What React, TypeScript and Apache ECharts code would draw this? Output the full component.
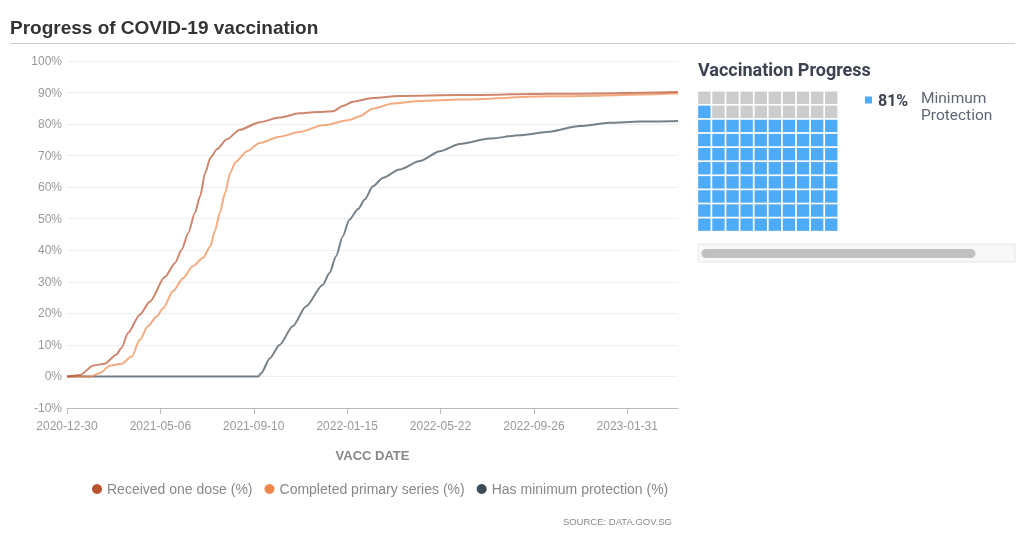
import React, { useEffect, useRef } from "react";
import * as echarts from "echarts";

const START = "2020-12-30";
const END_DAYS = 831;
const TICK_STEP = 127;

const oneDoseDates = ["2020-12-30","2021-01-17","2021-02-04","2021-02-19","2021-03-07","2021-03-14","2021-03-23","2021-04-08","2021-04-22","2021-05-12","2021-05-26","2021-06-04","2021-06-13","2021-06-22","2021-06-29","2021-07-06","2021-07-13","2021-07-22","2021-08-04","2021-08-22","2021-09-18","2021-10-15","2021-11-11","2021-12-04","2021-12-27","2022-01-09","2022-01-23","2022-02-19","2022-03-27","2022-06-17","2022-10-17","2023-04-10"];
const oneDoseValues = [0,0.5,3.5,4.0,6.9,9.0,13.8,19.6,23.8,31.5,36,40.2,45.5,51.9,57.1,64.6,69.3,72,75.1,78.2,80.6,82.1,83.4,83.8,84.1,85.7,87.1,88.3,88.9,89.2,89.6,90.2];

const primaryDates = ["2020-12-30","2021-02-01","2021-02-13","2021-02-26","2021-03-14","2021-03-28","2021-04-08","2021-04-19","2021-05-01","2021-05-10","2021-05-23","2021-06-06","2021-06-19","2021-07-03","2021-07-13","2021-07-19","2021-07-26","2021-08-02","2021-08-09","2021-08-16","2021-09-01","2021-09-18","2021-10-15","2021-11-11","2021-12-13","2022-01-18","2022-02-01","2022-02-19","2022-03-18","2022-04-24","2022-06-17","2022-10-17","2023-04-10"];
const primaryValues = [0,0,1.1,3.4,4.0,6.3,11.6,15.9,19,21.7,27,31.2,34.9,37.6,41.3,46,51.9,58.2,64.6,67.9,71.4,74,76,77.5,79.6,81.3,82.5,84.9,86.5,87.3,87.8,88.8,89.7];

const minProtDates = ["2020-12-30","2021-09-16","2021-09-20","2021-10-02","2021-10-15","2021-11-02","2021-11-20","2021-12-13","2021-12-22","2021-12-31","2022-01-09","2022-01-18","2022-01-30","2022-02-08","2022-02-19","2022-03-05","2022-03-27","2022-04-24","2022-05-21","2022-06-17","2022-07-28","2022-09-07","2022-10-17","2022-11-27","2023-01-07","2023-02-17","2023-04-10"];
const minProtValues = [0,0,1,5.8,10,15.9,22.2,29.1,32.8,38.1,44.4,49.7,53.1,56.1,60.3,63,65.6,68.3,71.4,73.7,75.4,76.5,77.6,79.4,80.4,80.8,81];

const seriesNames = ["Received one dose (%)", "Completed primary series (%)", "Has minimum protection (%)"];
const seriesColors = ["#b9532f", "#f0874a", "#3c4b55"];

const waffleValue = 81;
const waffleLabel = ["Minimum", "Protection"];

const DAY = 86400000;
const toDays = (s: string) => (Date.parse(s) - Date.parse(START)) / DAY;
const fmtDay = (d: number) => {
  const dt = new Date(Date.parse(START) + d * DAY);
  const m = String(dt.getUTCMonth() + 1).padStart(2, "0");
  const dd = String(dt.getUTCDate()).padStart(2, "0");
  return `${dt.getUTCFullYear()}-${m}-${dd}`;
};

export default function App() {
  const ref = useRef<HTMLDivElement>(null);
  useEffect(() => {
    if (!ref.current) return;
    const chart = echarts.init(ref.current, null, { renderer: "svg" });
    const pairs = (ds: string[], vs: number[]) => ds.map((d, i) => [toDays(d), vs[i]]);
    const tickVals: number[] = [];
    for (let v = 0; v <= END_DAYS; v += TICK_STEP) tickVals.push(v);

    const waffleFilled: number[][] = [];
    const waffleEmpty: number[][] = [];
    for (let i = 0; i < 100; i++) {
      const pt = [i % 10, Math.floor(i / 10)];
      if (i < waffleValue) waffleFilled.push(pt);
      else waffleEmpty.push(pt);
    }

    const lineSeries = [
      pairs(oneDoseDates, oneDoseValues),
      pairs(primaryDates, primaryValues),
      pairs(minProtDates, minProtValues),
    ].map((data, i) => ({
      name: seriesNames[i],
      type: "line",
      data,
      xAxisIndex: 0,
      yAxisIndex: 0,
      showSymbol: false,
      smooth: 0.25,
      smoothMonotone: "x",
      lineStyle: { width: 2, opacity: 0.7 },
      itemStyle: { color: seriesColors[i] },
      z: 3 - i,
    }));

    chart.setOption({
      animation: false,
      color: seriesColors,
      title: {
        text: "Progress of COVID-19 vaccination",
        left: 5,
        top: 13,
        textStyle: { fontFamily: "Liberation Sans", fontSize: 19, fontWeight: "bold", color: "#333" },
      },
      legend: {
        data: seriesNames,
        left: 87,
        top: 477,
        icon: "circle",
        itemWidth: 10,
        itemHeight: 10,
        itemGap: 12,
        textStyle: { fontFamily: "Liberation Sans", fontSize: 14, color: "#888" },
      },
      grid: [
        { left: 67, right: 346, top: 61, bottom: 142 },
        { left: 697.3, top: 90.7, width: 141, height: 141 },
      ],
      xAxis: [
        {
          type: "value",
          gridIndex: 0,
          min: 0,
          max: END_DAYS,
          interval: TICK_STEP,
          name: "VACC DATE",
          nameLocation: "middle",
          nameGap: 41,
          nameTextStyle: { fontFamily: "Liberation Sans", fontSize: 13, fontWeight: "bold", color: "#888" },
          splitLine: { show: false },
          axisLine: { show: true, onZero: false, lineStyle: { color: "#bbb" } },
          axisTick: { show: true, length: 6, lineStyle: { color: "#bbb" }, customValues: tickVals },
          axisLabel: {
            customValues: tickVals,
            formatter: (v: number) => fmtDay(v),
            fontFamily: "Liberation Sans",
            fontSize: 12,
            color: "#999",
            margin: 12,
          },
        },
        { type: "value", gridIndex: 1, min: -0.5, max: 9.5, show: false },
      ],
      yAxis: [
        {
          type: "value",
          gridIndex: 0,
          min: -10,
          max: 100,
          interval: 10,
          axisLine: { show: false },
          axisTick: { show: false },
          splitLine: { lineStyle: { color: "#efefef" } },
          axisLabel: {
            formatter: "{value}%",
            fontFamily: "Liberation Sans",
            fontSize: 12,
            color: "#999",
            margin: 5,
          },
        },
        { type: "value", gridIndex: 1, min: -0.5, max: 9.5, show: false },
      ],
      series: [
        ...lineSeries,
        {
          type: "scatter",
          xAxisIndex: 1,
          yAxisIndex: 1,
          symbol: "rect",
          symbolSize: 12.4,
          data: waffleFilled,
          itemStyle: { color: "#4dabf7", opacity: 1 },
          silent: true,
        },
        {
          type: "scatter",
          xAxisIndex: 1,
          yAxisIndex: 1,
          symbol: "rect",
          symbolSize: 12.4,
          data: waffleEmpty,
          itemStyle: { color: "#cccccc", opacity: 1 },
          silent: true,
        },
      ],
      graphic: [
        { type: "line", shape: { x1: 10, y1: 43.5, x2: 1015, y2: 43.5 }, style: { stroke: "#cccccc", lineWidth: 1 } },
        {
          type: "text",
          x: 698,
          y: 69,
          style: { text: "Vaccination Progress", font: "bold 18px Roboto", fill: "#3d4250", verticalAlign: "middle" },
        },
        { type: "rect", shape: { x: 865, y: 96.5, width: 7, height: 7 }, style: { fill: "#4dabf7" } },
        {
          type: "text",
          x: 878,
          y: 100,
          style: { text: `${waffleValue}%`, font: "bold 16px Roboto", fill: "#3d4250", verticalAlign: "middle" },
        },
        {
          type: "text",
          x: 921,
          y: 90,
          style: {
            text: waffleLabel.join("\n"),
            font: "15.5px Roboto",
            lineHeight: 16.5,
            fill: "#5f6673",
            verticalAlign: "top",
          },
        },
        { type: "rect", shape: { x: 698, y: 244, width: 317, height: 18 }, style: { fill: "#f8f8f8", stroke: "#e6e6e6", lineWidth: 1 } },
        { type: "rect", shape: { x: 701.5, y: 249, width: 274, height: 9, r: 4.5 }, style: { fill: "#c1c1c1" } },
        {
          type: "text",
          x: 672,
          y: 521,
          style: { text: "SOURCE: DATA.GOV.SG", font: "9.5px Liberation Sans", fill: "#888", align: "right", verticalAlign: "middle" },
        },
      ],
    });
    return () => chart.dispose();
  }, []);
  return <div ref={ref} style={{ position: "fixed", left: 0, top: 0, width: 1024, height: 550 }} />;
}
